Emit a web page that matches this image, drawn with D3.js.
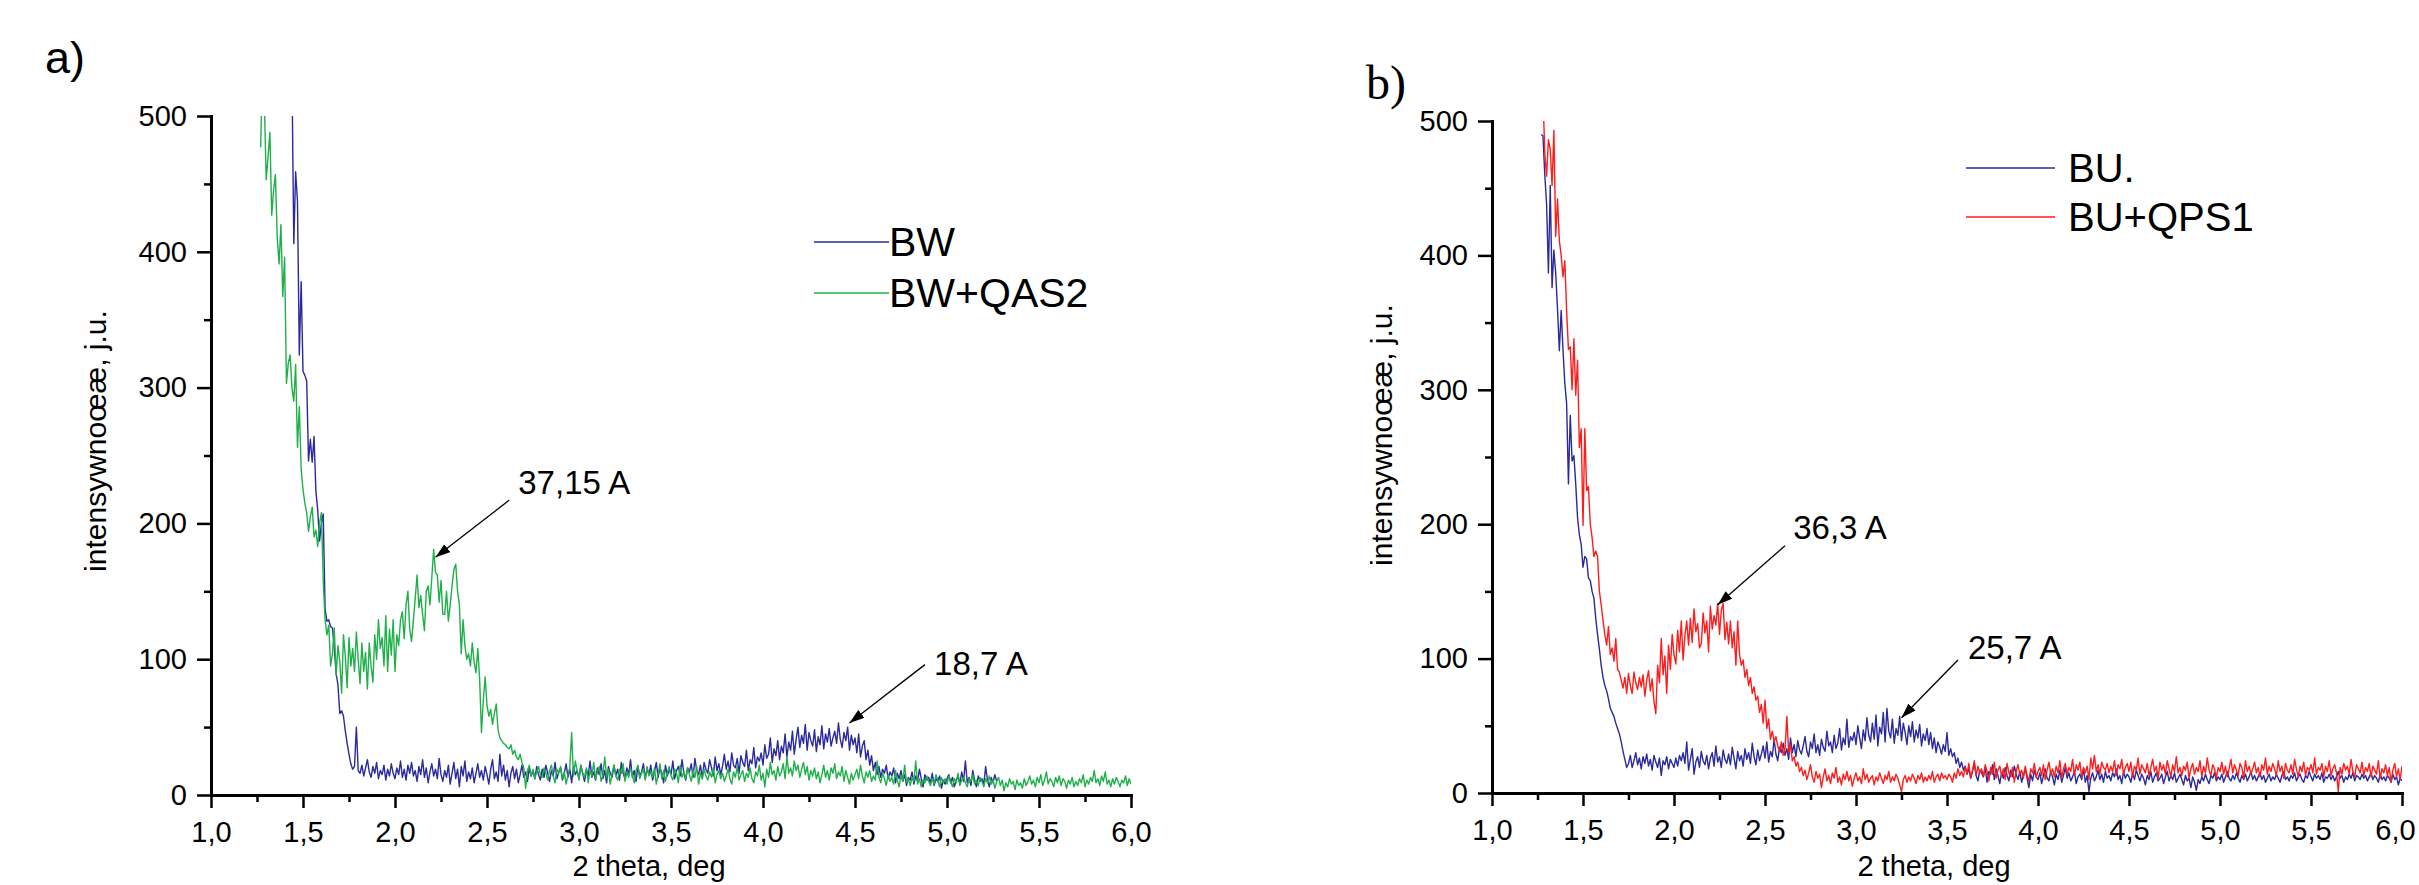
<!DOCTYPE html>
<html><head><meta charset="utf-8">
<script src="https://cdn.jsdelivr.net/npm/d3@7"></script>
<style>
html,body{margin:0;padding:0;background:#fff;overflow:hidden}
svg{display:block}
</style></head><body>
<svg id="chart" width="2419" height="885"></svg>
<script>
// ---------------- DATA ----------------
const STEP = 0.01; // measurement step of 2 theta (deg)
const xTicks = [1.0, 1.5, 2.0, 2.5, 3.0, 3.5, 4.0, 4.5, 5.0, 5.5, 6.0];
const xMinorTicks = [1.25, 1.75, 2.25, 2.75, 3.25, 3.75, 4.25, 4.75, 5.25, 5.75];
const yTicks = [0, 100, 200, 300, 400, 500];
const yMinorTicks = [50, 150, 250, 350, 450];

// panel a) BW  (starts at 1.44 deg)
const bwStart = 1.44;
const bwY = [530,406,459,437,324,378,
312,309,305,246,262,245,264,224,210,187,
200,207,137,128,129,124,123,108,90,81,
60,62,58,47,38,30,23,19,21,50,
18,16,22,14,20,26,17,13,21,16,
24,12,18,15,22,11,19,14,23,16,
12,20,15,25,13,19,11,22,16,24,
14,18,10,21,15,26,13,20,9,17,
23,14,19,12,27,15,10,18,13,22,
8,16,24,12,19,6,21,14,25,10,
17,12,20,9,16,23,13,18,11,21,
15,8,19,26,12,17,10,30,14,22,
11,18,6,16,21,12,19,9,15,22,
13,17,10,20,14,18,12,21,15,11,
19,13,22,16,10,18,14,24,12,17,
20,11,16,23,13,19,9,21,15,18,
12,22,16,10,19,14,25,13,17,11,
20,15,23,12,18,9,21,16,13,22,
14,19,11,24,16,12,20,15,26,13,
18,10,21,14,17,23,12,19,15,22,
11,17,24,13,20,16,9,22,14,19,
15,25,12,18,21,14,26,16,11,20,
17,23,13,27,18,15,22,12,24,19,
16,26,20,14,28,18,23,15,21,30,
19,25,17,31,22,20,27,16,29,24,
21,33,18,26,23,35,20,28,25,31,
22,37,27,30,42,24,34,29,40,26,
36,31,45,28,39,33,47,30,41,50,
35,44,38,52,33,46,40,36,48,32,
43,37,51,34,45,39,49,36,42,47,
38,53,41,35,46,40,50,33,44,37,
42,31,45,28,36,40,26,33,22,29,
18,24,15,21,13,19,16,22,12,17,
14,20,9,16,12,18,10,15,7,13,
11,17,8,14,10,19,12,6,15,11,
13,9,16,7,12,10,14,5,11,8,
12,15,9,13,6,11,14,8,17,10,
25,9,13,7,18,11,6,14,10,12,
8,21,11,6,13,9,15,10];

// panel a) BW+QAS2 (starts at 1.27 deg)
const bwQas2Start = 1.27;
const bwQas2Y = [477,540,510,
453,470,488,427,445,457,410,391,420,367,
396,303,318,324,300,290,317,256,286,240,
225,215,208,194,205,212,190,195,183,200,
208,158,129,118,125,95,104,123,88,110,
98,75,118,102,79,116,95,108,91,120,
100,82,112,91,105,78,112,95,83,118,
100,129,108,116,95,132,91,122,103,129,
91,118,110,129,135,115,140,150,122,113,
129,145,162,138,147,133,121,150,154,140,
160,181,164,162,142,158,133,133,150,128,
140,154,166,170,150,140,104,129,110,100,
104,95,112,98,90,108,85,46,70,87,
66,58,63,52,60,67,48,42,40,38,
37,35,34,37,30,33,28,26,30,24,
20,5,18,22,14,19,12,17,21,15,
13,20,16,11,18,22,14,9,19,16,
21,12,17,8,15,20,46,14,25,18,
11,22,16,13,20,9,18,14,24,12,
17,21,10,15,28,13,19,8,16,22,
14,11,19,16,23,10,17,13,20,15,
9,18,22,12,16,19,11,21,14,17,
13,20,8,15,23,12,18,10,16,21,
14,11,19,16,9,22,13,17,12,20,
15,10,18,13,21,8,16,12,19,14,
11,17,13,20,9,15,18,12,16,10,
14,19,12,8,17,13,21,11,15,18,
10,16,13,20,12,9,17,14,22,11,
16,6,19,13,24,15,18,11,21,14,
17,23,12,28,16,20,14,25,18,22,
13,19,24,15,21,11,18,14,20,12,
17,9,15,22,13,18,11,20,16,23,
12,17,14,21,10,18,13,8,16,11,
15,19,12,22,14,9,17,13,18,10,
14,11,25,13,9,16,12,7,15,10,
13,8,18,11,6,14,10,22,9,12,
7,13,10,25,8,12,6,11,9,14,
10,7,12,8,15,11,6,13,9,12,
8,14,10,6,12,9,16,7,11,13,
9,6,12,10,15,8,11,7,13,10,
6,12,9,14,8,11,5,10,13,7,
11,3,9,6,12,8,10,4,11,7,
9,5,12,7,10,14,8,11,6,13,
9,15,7,11,17,8,12,10,6,13,
9,14,7,12,10,5,11,8,13,6,
10,7,12,9,15,6,11,8,13,10,
18,9,12,7,14,10,17,8,11,6,
12,8,13,10,6,11,9,14,7,12,8];

// panel b) BU. (starts at 1.27 deg)
const buStart = 1.27;
const buY = [490,489,460,
438,387,452,376,404,387,360,329,359,330,
305,290,230,281,247,251,230,205,192,185,
168,176,174,160,158,150,145,130,118,107,
95,86,80,76,70,63,60,57,52,48,
44,38,31,25,19,22,28,19,24,30,
21,26,18,27,22,29,20,25,17,28,
23,19,26,13,24,21,27,18,25,22,
19,26,20,28,24,30,22,38,17,25,
33,14,23,27,19,31,24,21,28,18,
26,30,20,35,23,27,19,32,25,22,
29,21,34,26,18,31,24,28,20,33,
25,30,22,37,27,21,32,24,29,35,
26,38,23,31,27,40,29,24,34,30,
37,28,33,25,41,30,36,27,39,32,
29,35,42,31,27,38,33,44,30,36,
28,40,34,31,46,35,38,30,43,33,
37,48,32,41,36,55,34,42,39,45,
36,50,41,33,47,39,56,43,38,52,
40,58,35,49,44,60,38,63,46,41,
55,37,48,43,57,39,52,45,36,50,
42,53,38,47,41,51,35,44,39,48,
36,45,33,41,30,38,34,29,36,31,
45,28,33,27,30,22,26,19,23,17,
20,14,18,11,16,22,13,9,17,15,
12,19,8,16,14,21,10,18,13,7,
15,11,19,13,9,17,12,20,14,10,
16,8,13,18,11,4,14,9,17,12,
10,15,7,13,18,11,9,16,12,6,
14,10,17,8,13,19,11,15,9,12,
16,7,12,14,10,18,8,13,1,11,
15,9,12,17,10,14,8,16,11,13,
9,15,12,18,10,13,7,16,11,14,
12,8,15,10,17,13,9,14,11,6,
13,10,16,8,12,15,9,11,14,7,
12,16,9,13,10,15,8,11,14,10,
6,13,9,11,4,12,8,2,10,7,
12,9,14,10,7,13,11,15,9,12,
10,14,8,12,16,11,9,13,10,15,
11,8,13,10,14,9,12,16,10,13,
9,12,15,10,13,8,11,14,9,12,
10,14,11,8,13,16,10,12,9,13,
11,15,9,12,14,10,8,13,11,16,
12,9,14,11,13,10,15,8,12,11,
14,10,13,9,12,16,11,13,8,12,
10,14,11,15,9,13,12,10,14,11,
13,9,12,15,10,13,11,8,14,10,
12,9,13,11,8,14,10,12,6,11,9];

// panel b) BU+QPS1 (starts at 1.28 deg)
const buQps1Start = 1.28;
const buQps1Y = [520,476,
459,486,479,452,493,414,442,411,400,384,
396,359,330,332,300,338,296,322,257,271,
199,271,225,228,200,190,176,180,176,150,
140,128,118,110,124,103,108,98,115,92,
90,84,78,86,74,89,80,74,90,82,
77,86,79,88,72,84,91,76,85,68,
59,95,82,115,88,102,74,110,92,118,
103,96,121,105,128,99,117,128,110,130,
112,137,120,126,108,111,134,119,128,105,
139,122,132,125,141,118,136,141,114,127,
111,128,108,120,95,128,103,95,99,86,
92,80,86,74,79,69,72,60,66,52,
69,48,55,40,46,38,42,35,31,38,
28,33,57,30,36,24,27,20,23,16,
19,13,17,10,15,21,12,8,16,11,
14,4,12,18,9,13,7,15,11,19,
8,12,6,14,10,16,9,13,5,11,
15,9,12,7,18,10,14,8,11,13,
6,12,9,15,11,7,13,10,16,8,
12,9,14,11,6,1,10,13,8,12,
9,14,11,7,13,10,15,8,12,9,
13,10,16,8,12,14,9,15,11,13,
10,14,12,8,15,11,18,13,16,12,
19,14,22,11,17,24,13,20,15,18,
12,21,16,9,19,14,23,11,17,20,
13,18,10,22,15,12,19,8,16,21,
14,17,11,20,13,9,18,15,22,12,
16,19,13,21,10,17,23,14,18,12,
20,15,24,11,18,22,14,19,16,25,
13,21,17,23,12,19,15,20,10,26,
18,28,16,21,14,23,19,17,22,15,
20,16,24,13,21,18,25,14,19,22,
16,23,12,20,17,26,14,21,18,15,
22,13,19,25,16,20,11,23,17,21,
14,24,18,12,21,16,27,15,19,13,
20,17,23,11,18,22,14,19,16,24,
12,20,15,26,17,13,21,18,11,19,
16,23,14,20,12,18,25,15,21,17,
13,22,19,11,24,16,20,14,18,23,
15,19,12,21,17,26,14,20,16,22,
18,13,24,16,20,11,22,17,15,21,
14,25,18,12,20,16,23,13,19,17,
21,15,26,14,19,17,22,12,20,16,
24,13,18,21,15,1,19,14,22,17,
20,14,25,16,12,21,18,15,23,13,
19,16,22,12,20,17,14,24,11,18,
15,21,13,19,8,17,22,12,18,10,20];

// peak annotations (data coordinates: label anchor, arrow start, arrow tip)
const annotationsA = [
  {label: "37,15 A", tx: 2.67, ty: 222, x1: 2.62, y1: 217, x2: 2.22, y2: 175},
  {label: "18,7 A",  tx: 4.93, ty: 88,  x1: 4.88, y1: 96,  x2: 4.47, y2: 53}
];
const annotationsB = [
  {label: "36,3 A",  tx: 2.655, ty: 189, x1: 2.61, y1: 184, x2: 2.24, y2: 140},
  {label: "25,7 A",  tx: 3.615, ty: 100, x1: 3.56, y1: 99,  x2: 3.25, y2: 56}
];

const xTitle = "2 theta, deg";
const yTitle = "intensywnoœæ, j.u.";

// ---------------- DRAWING ----------------
const FONT = '"Liberation Sans", Arial, Helvetica, sans-serif';
const svg = d3.select("#chart");
const defs = svg.append("defs");
defs.append("marker").attr("id", "arrowHead")
  .attr("viewBox", "0 0 15 10").attr("refX", 15).attr("refY", 5)
  .attr("markerWidth", 15).attr("markerHeight", 10)
  .attr("markerUnits", "userSpaceOnUse").attr("orient", "auto")
  .append("path").attr("d", "M0,0 L15,5 L0,10 z").attr("fill", "#000");

const fmt = d => d.toFixed(1).replace(".", ",");

function drawPanel(p) {
  const x = d3.scaleLinear().domain([1, 6]).range([p.left, p.right]);
  const y = d3.scaleLinear().domain([0, 500]).range([p.bottom, p.top]);
  const g = svg.append("g");

  defs.append("clipPath").attr("id", "clip" + p.id)
    .append("rect").attr("x", p.left).attr("y", p.top)
    .attr("width", p.right - p.left).attr("height", p.bottom - p.top);

  const line = d3.line().x(d => x(d[0])).y(d => y(d[1]));
  p.series.forEach(s => {
    const pts = s.values.map((v, i) => [Math.round(s.start * 100 + i) / 100, v]);
    g.append("path").attr("clip-path", `url(#clip${p.id})`)
      .attr("d", line(pts)).attr("fill", "none")
      .attr("stroke", s.color).attr("stroke-width", 1.4)
      .attr("stroke-linejoin", "round");
  });

  // axes
  const styleAxis = (sel, w) => {
    sel.attr("font-family", FONT).attr("font-size", 29);
    sel.selectAll(".domain").attr("stroke", "#000").attr("stroke-width", 3).attr("stroke-linecap", "square");
    sel.selectAll(".tick line").attr("stroke", "#000").attr("stroke-width", w);
    sel.selectAll("text").attr("fill", "#000");
  };
  const yAxis = g.append("g").attr("transform", `translate(${p.left},0)`)
    .call(d3.axisLeft(y).tickValues(yTicks).tickFormat(d3.format("d")).tickSize(14).tickPadding(10).tickSizeOuter(0));
  styleAxis(yAxis, 2.5);
  const yMinor = g.append("g").attr("transform", `translate(${p.left},0)`)
    .call(d3.axisLeft(y).tickValues(yMinorTicks).tickFormat("").tickSize(7).tickSizeOuter(0));
  yMinor.select(".domain").remove();
  styleAxis(yMinor, 2.5);

  const xAxis = g.append("g").attr("transform", `translate(0,${p.bottom})`)
    .call(d3.axisBottom(x).tickValues(xTicks).tickFormat(fmt).tickSize(13).tickPadding(13).tickSizeOuter(0));
  styleAxis(xAxis, 2.5);
  // keep the last label inside the page
  xAxis.selectAll(".tick text").filter(d => d === 6).attr("dx", p.lastLabelShift || 0);
  const xMinor = g.append("g").attr("transform", `translate(0,${p.bottom})`)
    .call(d3.axisBottom(x).tickValues(xMinorTicks).tickFormat("").tickSize(7).tickSizeOuter(0));
  xMinor.select(".domain").remove();
  styleAxis(xMinor, 2.5);

  // axis titles
  g.append("text").attr("x", p.xTitleX).attr("y", p.xTitleY)
    .attr("text-anchor", "middle").attr("font-family", FONT).attr("font-size", 29)
    .text(xTitle);
  g.append("text").attr("transform", `translate(${p.yTitleX},${p.yTitleY}) rotate(-90)`)
    .attr("text-anchor", "middle").attr("font-family", FONT).attr("font-size", 30)
    .text(yTitle);

  // panel letter
  g.append("text").attr("x", p.letterX).attr("y", p.letterY)
    .attr("font-family", p.letterFont).attr("font-size", p.letterSize)
    .text(p.letter);

  // legend
  p.series.forEach((s, i) => {
    const ly = p.legendY + i * p.legendGap;
    g.append("line").attr("x1", p.legendX1).attr("x2", p.legendX2)
      .attr("y1", ly).attr("y2", ly).attr("stroke", s.color).attr("stroke-width", 1.5);
    g.append("text").attr("x", p.legendTextX).attr("y", ly + 14)
      .attr("font-family", FONT).attr("font-size", p.legendSize).text(s.name);
  });

  // annotations
  p.annotations.forEach(a => {
    g.append("line").attr("x1", x(a.x1)).attr("y1", y(a.y1))
      .attr("x2", x(a.x2)).attr("y2", y(a.y2))
      .attr("stroke", "#000").attr("stroke-width", 1.3)
      .attr("marker-end", "url(#arrowHead)");
    g.append("text").attr("x", x(a.tx)).attr("y", y(a.ty))
      .attr("font-family", FONT).attr("font-size", 33).text(a.label);
  });
}

drawPanel({
  id: "A", left: 211, right: 1131, top: 116, bottom: 795,
  series: [
    {name: "BW", values: bwY, start: bwStart, color: "#2a2a9c"},
    {name: "BW+QAS2", values: bwQas2Y, start: bwQas2Start, color: "#1fb04a"}
  ],
  annotations: annotationsA,
  xTitleX: 649, xTitleY: 876, yTitleX: 106, yTitleY: 441,
  letter: "a)", letterX: 45, letterY: 73, letterFont: FONT, letterSize: 45,
  legendX1: 814, legendX2: 889, legendTextX: 889, legendY: 242, legendGap: 51, legendSize: 41
});

drawPanel({
  id: "B", left: 1492, right: 2402, top: 121, bottom: 793,
  series: [
    {name: "BU.", values: buY, start: buStart, color: "#2a2a9c"},
    {name: "BU+QPS1", values: buQps1Y, start: buQps1Start, color: "#ff1c1c"}
  ],
  annotations: annotationsB,
  lastLabelShift: -7,
  xTitleX: 1934, xTitleY: 876, yTitleX: 1392, yTitleY: 435,
  letter: "b)", letterX: 1366, letterY: 99, letterFont: '"Liberation Serif", "Times New Roman", serif', letterSize: 48,
  legendX1: 1966, legendX2: 2055, legendTextX: 2068, legendY: 168, legendGap: 49, legendSize: 40
});
</script>
</body></html>
